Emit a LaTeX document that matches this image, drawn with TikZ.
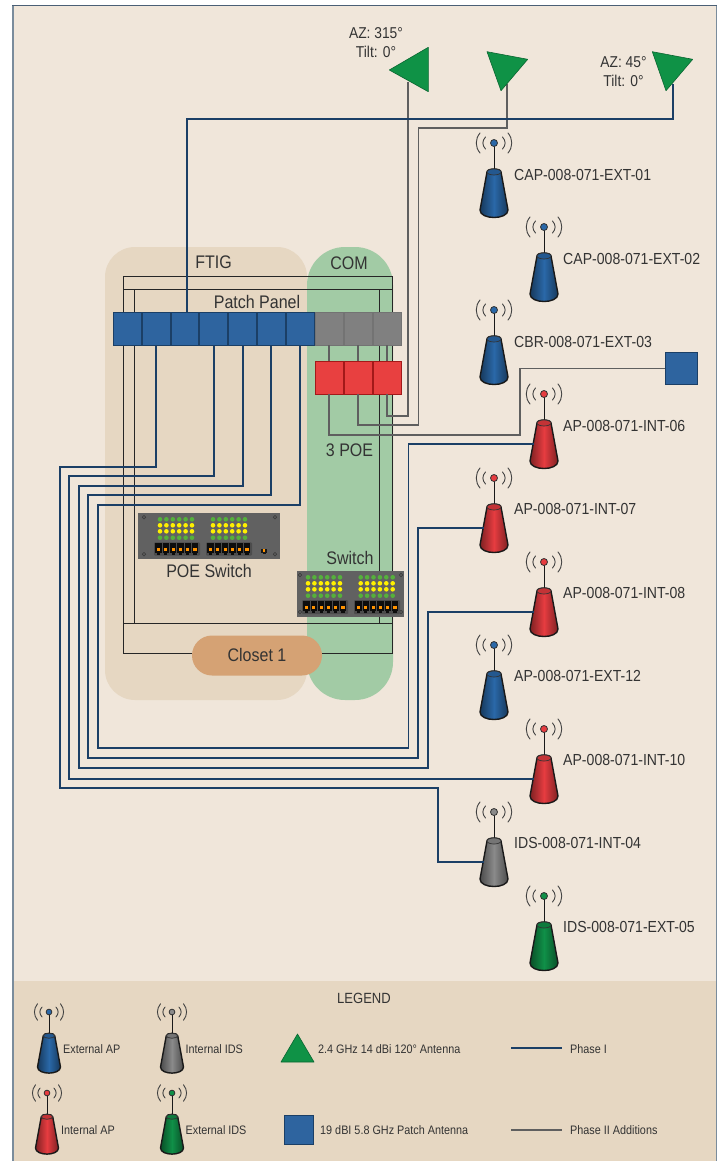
\documentclass[tikz,border=0pt]{standalone}
\usepackage{fontspec}
\setmainfont[FakeStretch=0.88]{Liberation Sans}
\definecolor{pagebg}{HTML}{F0E6DA}
\definecolor{sand}{HTML}{E6D7C2}
\definecolor{comgreen}{HTML}{A2CBA5}
\definecolor{closetc}{HTML}{D5A274}
\definecolor{cellblue}{HTML}{2E649F}
\definecolor{cellgray}{HTML}{808080}
\definecolor{cellred}{HTML}{E84040}
\definecolor{navy}{HTML}{1B3F66}
\definecolor{wiregray}{HTML}{5F5F5F}
\definecolor{antgreen}{HTML}{0F9246}
\definecolor{txt}{HTML}{333333}
\definecolor{apblue}{HTML}{2A68A8}
\definecolor{apred}{HTML}{E63C40}
\definecolor{apgray}{HTML}{8A8A8A}
\definecolor{apgreen}{HTML}{109048}
\definecolor{panelgray}{HTML}{616161}
\definecolor{ledg}{HTML}{55B03C}
\definecolor{ledy}{HTML}{FFF000}
\definecolor{border}{HTML}{7A8C9C}
\definecolor{topborder}{HTML}{4A5F75}
\tikzset{
  txtbase/.style={inner sep=0pt,text=txt},
  big/.style={txtbase,font=\fontsize{18.2}{20}\selectfont},
  aplabel/.style={txtbase,anchor=west,font=\fontsize{16}{18}\selectfont},
  azlabel/.style={txtbase,align=center,font=\fontsize{15.7}{19}\selectfont},
  leg/.style={txtbase,anchor=west,font=\fontsize{12.3}{14}\selectfont},
  frameline/.style={draw=black!85,line width=.9pt},
  wireblue/.style={draw=navy,line width=1.7pt},
  wiregrey/.style={draw=wiregray,line width=1.9pt},
  cell/.style={minimum height=33pt,inner sep=0pt,line width=.8pt},
  bluecell/.style={cell,minimum width=27.9pt,fill=cellblue,draw=navy},
  graycell/.style={cell,minimum width=28pt,fill=cellgray,draw=black!55},
  redcell/.style={cell,minimum width=28pt,fill=cellred,draw=red!60!black!90},
  antenna/.style={fill=antgreen,draw=antgreen!70!black,line width=.6pt,line join=round},
  pics/apicon/.style={code={
    \draw[black!75,line width=.9pt,line cap=round]
      (-14,-10) .. controls (-19,-4) and (-19,4) .. (-14,10)
      (14,-10) .. controls (19,-4) and (19,4) .. (14,10)
      (-8.5,-6) .. controls (-12,-2) and (-12,2) .. (-8.5,6)
      (8.5,-6) .. controls (12,-2) and (12,2) .. (8.5,6);
    \draw[black!90,line width=1pt] (0,3) -- (0,27);
    \filldraw[fill=#1,draw=black!80,line width=.8pt] (0,0) circle[radius=3.5];
    \path[left color=#1!55!black,right color=#1!55!black,middle color=#1,draw=black!90,line width=1.4pt,line join=round]
      (-7,29) -- (-14,67) .. controls (-14,77) and (14,77) .. (14,67) -- (7,29) .. controls (7,25) and (-7,25) .. (-7,29) -- cycle;
    \filldraw[fill=#1!85!black,draw=black!80,line width=.7pt] (0,29) ellipse[x radius=7,y radius=3];
    \coordinate (-port) at (-10,50);
  }},
  pics/portblock/.style={code={
    \fill[black!70,rounded corners=1pt] (0,0) rectangle (46,#1);
    \foreach \i in {0,...,5}{
      \fill[black!95] (1.4+7.3*\i,1) rectangle (7.6+7.3*\i,{#1-3});
      \fill[black!95] (2.9+7.3*\i,{#1-3}) rectangle (6.1+7.3*\i,{#1-1});
      \fill[orange!85!yellow] (2.9+7.3*\i,{#1/2-1.5}) rectangle (6.1+7.3*\i,{#1/2+1.5});
    }
  }},
  pics/ledgrid/.style={code={
    \foreach \i in {0,...,5}{
      \foreach \y/\c in {0/ledg,6/ledy,12/ledy,18.4/ledg}{
        \fill[\c] (6.4*\i,\y) circle[radius=2.3];
      }
    }
  }},
  screw/.style={fill=black!65,draw=black!80,line width=.3pt}
}
\begin{document}
\begin{tikzpicture}[x=1pt,y=-1pt]
\useasboundingbox (0,0) rectangle (719,1161);
\fill[white] (0,0) rectangle (719,1161);
% page
\fill[pagebg] (12,5) rectangle (717,981);
\fill[sand] (12,981) rectangle (717,1161);
\draw[draw=border,line width=2pt] (13,5) -- (13,1161);
\draw[draw=border,line width=1.4pt] (716.3,5) -- (716.3,1161);
\draw[draw=topborder,line width=1.3pt] (12,5.5) -- (717,5.5);
% zones
\fill[sand,rounded corners=30pt] (105,247) rectangle (307,700);
\fill[comgreen,rounded corners=38pt] (307,247) rectangle (393,700);
\node[big] (ftig) at (213.5,262) {FTIG};
\node[big] (com) at (349,263) {COM};
\node[big] (patch) at (257,302) {Patch Panel};
\node[big] (poe3) at (349.5,450) {3 POE};
\node[big] (poesw) at (209,571) {POE Switch};
\node[big] (swt) at (350,558) {Switch};
% frame
\draw[frameline] (123,276) rectangle (392,653);
\draw[frameline] (123,289) -- (392,289) (123,623) -- (392,623);
\draw[frameline] (134.5,289) -- (134.5,623) (379,289) -- (379,623);
% patch panel cells
\foreach \n/\x in {1/127.3,2/156.1,3/184.9,4/213.7,5/242.5,6/271.3,7/300.1}
  \node[bluecell] (b\n) at (\x,328.5) {};
\foreach \n/\x in {1/329,2/358,3/387}{
  \node[graycell] (g\n) at (\x,328.5) {};
  \node[redcell] (r\n) at (\x,377.5) {};
}
% POE switch
\fill[panelgray] (138,513) rectangle (280,559);
\foreach \p in {(144,517.3),(275,517.3),(144,554.3),(275,554.3)}
  \filldraw[screw] \p circle[radius=1.9];
\pic at (160,519.3) {ledgrid};
\pic at (213,519.3) {ledgrid};
\pic at (154,542.3) {portblock=13.4};
\pic at (206,542.3) {portblock=13.4};
\fill[black!90] (261,548.5) rectangle (267,552.5);
\fill[black!90] (262.5,552.5) rectangle (265.5,554);
\fill[orange!85!yellow] (263,549) rectangle (265,551.5);
% Switch
\fill[panelgray] (297,571) rectangle (404,617);
\foreach \p in {(300,575),(401,575),(300,612),(401,612)}
  \filldraw[screw] \p circle[radius=1.9];
\pic at (308,577.3) {ledgrid};
\pic at (360.7,577.3) {ledgrid};
\pic at (302,600) {portblock=14};
\pic at (354,600) {portblock=14};
% closet
\node[fill=closetc,rounded corners=20pt,minimum width=130pt,minimum height=40pt,inner sep=0pt,text=txt,font=\fontsize{18.2}{20}\selectfont] (closet) at (257,655.5) {\raisebox{1.5pt}{Closet 1}};
% antennas
\coordinate (a1) at (408,82);
\coordinate (a2) at (506.7,84);
\coordinate (a3) at (673,84);
% APs
\pic (cap1) at (494,143) {apicon=apblue};
\pic (cap2) at (544,227) {apicon=apblue};
\pic (cbr3) at (494,310) {apicon=apblue};
\pic (ap6) at (544,394) {apicon=apred};
\pic (ap7) at (494,478) {apicon=apred};
\pic (ap8) at (544,562) {apicon=apred};
\pic (ap12) at (494,645) {apicon=apblue};
\pic (ap10) at (544,729) {apicon=apred};
\pic (ids4) at (494,812) {apicon=apgray};
\pic (ids5) at (544,896) {apicon=apgreen};
\node[aplabel] (l1) at (514,175) {CAP-008-071-EXT-01};
\node[aplabel] (l2) at (563,259) {CAP-008-071-EXT-02};
\node[aplabel] (l3) at (514,342) {CBR-008-071-EXT-03};
\node[aplabel] (l6) at (563,426) {AP-008-071-INT-06};
\node[aplabel] (l7) at (514,509) {AP-008-071-INT-07};
\node[aplabel] (l8) at (563,593) {AP-008-071-INT-08};
\node[aplabel] (l12) at (514,676) {AP-008-071-EXT-12};
\node[aplabel] (l10) at (563,760) {AP-008-071-INT-10};
\node[aplabel] (l4) at (514,843) {IDS-008-071-INT-04};
\node[aplabel] (l5) at (563,927) {IDS-008-071-EXT-05};
% patch antenna
\node[fill=cellblue,draw=navy,line width=.8pt,minimum size=32pt,inner sep=0pt] (pa) at (681,368.5) {};
% grey wires
\draw[wiregrey] (a1) |- (387,415.7) -- (r3.south);
\draw[wiregrey] (a2) |- (418.5,127.7) |- (r2.south |- 0,425) -- (r2.south);
\draw[wiregrey] (r1.south) |- (520,435) |- (pa.west);
\draw[wiregrey] (g1.south) -- (r1.north);
\draw[wiregrey] (g2.south) -- (r2.north);
\draw[wiregrey] (g3.south) -- (r3.north);
% blue wires
\coordinate (v2) at (155.7,466.7);
\coordinate (v3) at (187,118.7);
\coordinate (v4) at (214,476);
\coordinate (v5) at (243,485.7);
\coordinate (v6) at (271,495);
\coordinate (v7) at (300,504.7);
\draw[wireblue] (v3 |- b3.north) -- (v3) -| (a3);
\draw[wireblue] (v2 |- b2.south) -- (v2) -- (59.7,466.7) |- (438,788) |- (ids4-port);
\draw[wireblue] (v4 |- b4.south) -- (v4) -- (69,476) |- (ap10-port);
\draw[wireblue] (v5 |- b5.south) -- (v5) -- (79,485.7) |- (428,768) |- (ap8-port);
\draw[wireblue] (v6 |- b6.south) -- (v6) -- (87.7,495) |- (418,758) |- (ap7-port);
\draw[wireblue] (v7 |- b7.south) -- (v7) -- (97.7,504.7) |- (408.5,748) |- (ap6-port);
% antenna triangles
\filldraw[antenna] (389.3,70) -- (428.3,47.3) -- (428.3,91.7) -- cycle;
\filldraw[antenna] (487,51.7) -- (527.7,59.3) -- (501,90.7) -- cycle;
\filldraw[antenna] (652.3,51.7) -- (692.7,59.3) -- (666,90.7) -- cycle;
\node[azlabel] (az1) at (376,42.5) {AZ: 315°\\Tilt: 0°};
\node[azlabel] (az2) at (623.5,71.5) {AZ: 45°\\Tilt: 0°};
% legend
\node[txtbase,font=\fontsize{14.8}{18}\selectfont] (legend) at (364,998) {LEGEND};
\pic[scale=.82] (k1) at (49,1012) {apicon=apblue};
\pic[scale=.82] (k2) at (172,1012) {apicon=apgray};
\pic[scale=.82] (k3) at (47,1093) {apicon=apred};
\pic[scale=.82] (k4) at (172,1093) {apicon=apgreen};
\node[leg] (t1) at (63,1049) {External AP};
\node[leg] (t2) at (185.5,1049) {Internal IDS};
\node[leg] (t3) at (61,1130) {Internal AP};
\node[leg] (t4) at (185.5,1130) {External IDS};
\filldraw[antenna] (281,1062) -- (297.5,1034) -- (314,1062) -- cycle;
\node[leg] (t5) at (318,1049) {2.4 GHz 14 dBi 120° Antenna};
\node[fill=cellblue,draw=navy,line width=.8pt,minimum size=29pt,inner sep=0pt] (keysq) at (298.5,1129.5) {};
\node[leg] (t6) at (320,1130) {19 dBI 5.8 GHz Patch Antenna};
\coordinate (p1a) at (511,1048);
\coordinate (p1b) at (562,1048);
\coordinate (p2a) at (511,1130);
\coordinate (p2b) at (562,1130);
\draw[wireblue] (p1a) -- (p1b);
\draw[wiregrey,line width=1.4pt] (p2a) -- (p2b);
\node[leg] (t7) at (570,1049) {Phase I};
\node[leg] (t8) at (570,1130) {Phase II Additions};
\end{tikzpicture}
\end{document}
